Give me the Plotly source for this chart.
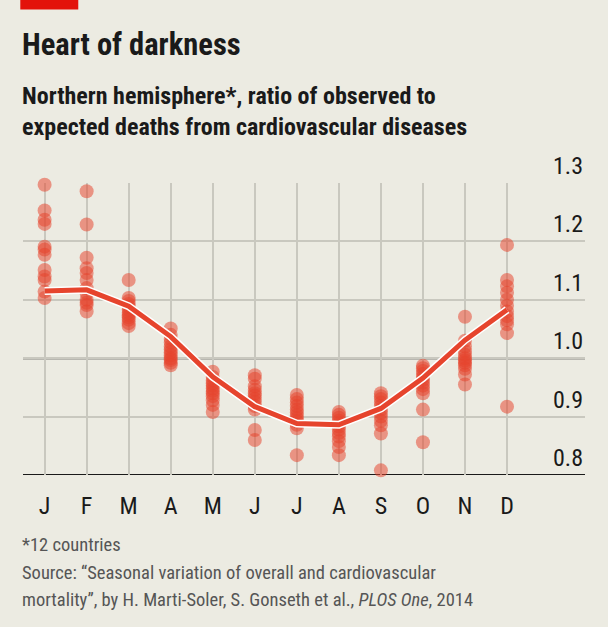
import plotly.graph_objects as go

# --- data ---
months = ["J", "F", "M", "A", "M", "J", "J", "A", "S", "O", "N", "D"]

# ratio observed/expected deaths, one value per country (12) per month
jan = [1.297, 1.253, 1.237, 1.230, 1.191, 1.186, 1.177, 1.151, 1.140, 1.134, 1.114, 1.103]
feb = [1.286, 1.229, 1.172, 1.154, 1.146, 1.134, 1.120, 1.111, 1.100, 1.095, 1.091, 1.080]
mar = [1.134, 1.103, 1.098, 1.093, 1.088, 1.083, 1.078, 1.074, 1.070, 1.066, 1.060, 1.055]
apr = [1.051, 1.040, 1.033, 1.027, 1.020, 1.015, 1.010, 1.005, 1.000, 0.997, 0.992, 0.988]
may = [0.977, 0.968, 0.962, 0.957, 0.953, 0.948, 0.944, 0.940, 0.935, 0.928, 0.920, 0.908]
jun = [0.971, 0.965, 0.952, 0.946, 0.940, 0.936, 0.930, 0.925, 0.918, 0.912, 0.877, 0.860]
jul = [0.937, 0.930, 0.924, 0.918, 0.912, 0.907, 0.902, 0.897, 0.892, 0.886, 0.880, 0.834]
aug = [0.908, 0.903, 0.898, 0.893, 0.888, 0.883, 0.878, 0.872, 0.866, 0.858, 0.848, 0.834]
sep = [0.940, 0.935, 0.930, 0.924, 0.918, 0.912, 0.906, 0.900, 0.893, 0.885, 0.871, 0.808]
oct_ = [0.987, 0.983, 0.978, 0.973, 0.968, 0.963, 0.958, 0.953, 0.947, 0.940, 0.912, 0.856]
nov = [1.071, 1.030, 1.020, 1.012, 1.006, 1.000, 0.996, 0.992, 0.988, 0.982, 0.972, 0.955]
dec = [1.194, 1.134, 1.123, 1.112, 1.100, 1.090, 1.080, 1.072, 1.065, 1.058, 1.043, 0.917]
country_values = [jan, feb, mar, apr, may, jun, jul, aug, sep, oct_, nov, dec]

# pooled seasonal curve
pooled = [1.115, 1.117, 1.089, 1.037, 0.968, 0.917, 0.888, 0.886, 0.914, 0.966, 1.031, 1.083]

y_ticks = [0.8, 0.9, 1.0, 1.1, 1.2, 1.3]

# --- styling ---
BG = "#ECEBE2"
RED = "#E6442D"
GRID = "#C9C8BF"
FONT = "Roboto Condensed, Roboto, sans-serif"

W, H = 608, 627
L, R, T, B = 22.7, 585, 183.3, 475


def ypx(p):
    # pixel row -> paper y
    return (B - p) / (B - T)


def xpx(p):
    return (p - L) / (R - L)


fig = go.Figure()

for i, vals in enumerate(country_values):
    fig.add_trace(go.Scatter(
        x=[i] * len(vals), y=vals, mode="markers",
        marker=dict(size=14, color=RED, opacity=0.52, line=dict(width=0)),
        hoverinfo="y", showlegend=False, cliponaxis=False,
    ))

# white halo under the curve
fig.add_trace(go.Scatter(
    x=list(range(12)), y=pooled, mode="lines",
    line=dict(color="white", width=8), showlegend=False, hoverinfo="skip",
))
fig.add_trace(go.Scatter(
    x=list(range(12)), y=pooled, mode="lines",
    line=dict(color=RED, width=5), showlegend=False,
))

fig.update_xaxes(
    range=[-0.514, 12.855], tickvals=list(range(12)), ticktext=months,
    showgrid=True, gridcolor=GRID, gridwidth=1.5, zeroline=False,
    showline=False, ticks="", ticklabelstandoff=14,
    tickfont=dict(family=FONT, size=24, color="#1a1a1a"),
)
fig.update_yaxes(
    range=[0.8, 1.3], tickvals=y_ticks, showticklabels=False,
    showgrid=True, gridcolor=GRID, gridwidth=1.5, zeroline=False, showline=False,
)

# black reference lines at 1.0 and baseline
for v in [1.0, 0.8]:
    fig.add_shape(type="line", xref="paper", yref="y", x0=0, x1=1, y0=v, y1=v,
                  line=dict(color="#1a1a1a", width=2), layer="below")

# red tag top-left
fig.add_shape(type="rect", xref="paper", yref="paper",
              x0=xpx(20), x1=xpx(78), y0=ypx(10), y1=ypx(-2),
              fillcolor="#E3120B", line=dict(width=0))

ann = []
for v in y_ticks:
    ann.append(dict(xref="paper", yref="y", x=1, y=v, text=f"{v:.1f}",
                    xanchor="right", yanchor="bottom", yshift=1, showarrow=False,
                    font=dict(family=FONT, size=24, color="#1a1a1a")))

texts = [
    ("<b>Heart of darkness</b>", 45, 30.5, "#1a1a1a"),
    ("<b>Northern hemisphere*, ratio of observed to</b>", 96, 24, "#1a1a1a"),
    ("<b>expected deaths from cardiovascular diseases</b>", 127, 24, "#1a1a1a"),
    ("*12 countries", 545, 18.5, "#555555"),
    ("Source: “Seasonal variation of overall and cardiovascular", 573, 18.5, "#555555"),
    ("mortality”, by H. Marti-Soler, S. Gonseth et al., <i>PLOS One</i>, 2014", 600, 18.5, "#555555"),
]
for txt, yp, size, col in texts:
    ann.append(dict(xref="paper", yref="paper", x=xpx(20), y=ypx(yp), text=txt,
                    xanchor="left", yanchor="middle", showarrow=False,
                    font=dict(family=FONT, size=size, color=col)))

fig.update_layout(
    width=W, height=H, autosize=False,
    margin=dict(l=L, r=W - R, t=T, b=H - B, pad=0),
    paper_bgcolor=BG, plot_bgcolor=BG,
    annotations=ann, showlegend=False,
)

# drop the browser's default body margin so the figure sits at the page corner
fig.write_html("out.html", config={"displayModeBar": False},
               post_script="document.body.style.margin='0';document.body.style.background='%s';" % BG)
